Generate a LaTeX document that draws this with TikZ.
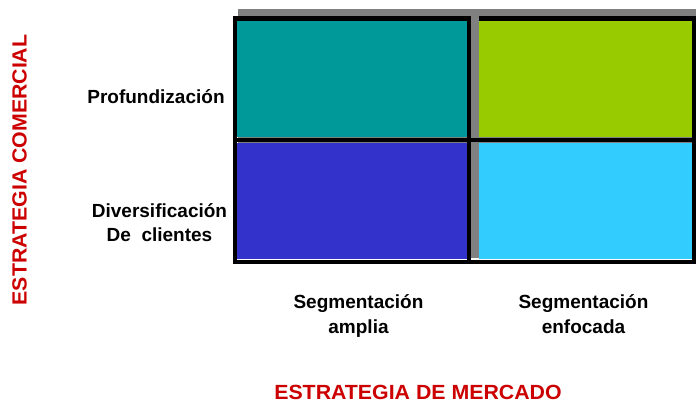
\documentclass[tikz,border=0pt]{standalone}
\usepackage{fontspec}
\setmainfont{Liberation Sans}[BoldFont={Liberation Sans Bold}]
\newfontfamily\boldsans{Liberation Sans Bold}
\newfontfamily\redsans{Liberation Sans Bold}[FakeStretch=1.04]
\definecolor{cteal}{HTML}{009999}
\definecolor{cgreen}{HTML}{99CC00}
\definecolor{cblue}{HTML}{3333CC}
\definecolor{ccyan}{HTML}{33CCFF}
\definecolor{cgray}{HTML}{808080}
\definecolor{cred}{HTML}{CC0000}
\tikzset{
  gridline/.style={draw=black,line width=4.8pt,line join=miter,line cap=butt},
  rowlabel/.style={font=\boldsans\fontsize{19}{24}\selectfont,align=center,inner sep=0pt},
  axislabel/.style={font=\redsans\fontsize{20.5}{24}\selectfont,text=cred,inner sep=0pt,text depth=0pt}
}
\begin{document}
\begin{tikzpicture}[x=1pt,y=-1pt]
\useasboundingbox (0,0) rectangle (696,401);
% shadow
\fill[cgray] (238,9) rectangle (696,258);
% cells
\fill[cteal] (237,21) rectangle (467,137);
\fill[cgreen] (479,21) rectangle (692,137);
\fill[cblue] (237,143) rectangle (467,259);
\fill[ccyan] (479,143) rectangle (692,259);
% grid lines
\draw[gridline] (235,18.5) rectangle (469,262);
\draw[gridline] (478.7,18.5) -- (694,18.5) -- (694,262) -- (469,262);
\draw[gridline] (233,140) -- (696,140);
% labels
\node[rowlabel,anchor=base] (prof) at (156,103.3) {Profundización};
\node[rowlabel,anchor=base] (div) at (159.5,217.6) {Diversificación};
\node[rowlabel,anchor=base] (cli) at (159.5,241.6) {De\ \ clientes};
\node[rowlabel,anchor=base] (sa1) at (358.5,308.6) {Segmentación};
\node[rowlabel,anchor=base] (sa2) at (358.5,333.6) {amplia};
\node[rowlabel,anchor=base] (se1) at (583.5,308.6) {Segmentación};
\node[rowlabel,anchor=base] (se2) at (583.5,333.6) {enfocada};
\node[axislabel,anchor=base] (mer) at (418,399.5) {ESTRATEGIA DE MERCADO};
\node[axislabel,anchor=base,rotate=90] (com) at (26.7,170) {ESTRATEGIA COMERCIAL};
\end{tikzpicture}
\end{document}
